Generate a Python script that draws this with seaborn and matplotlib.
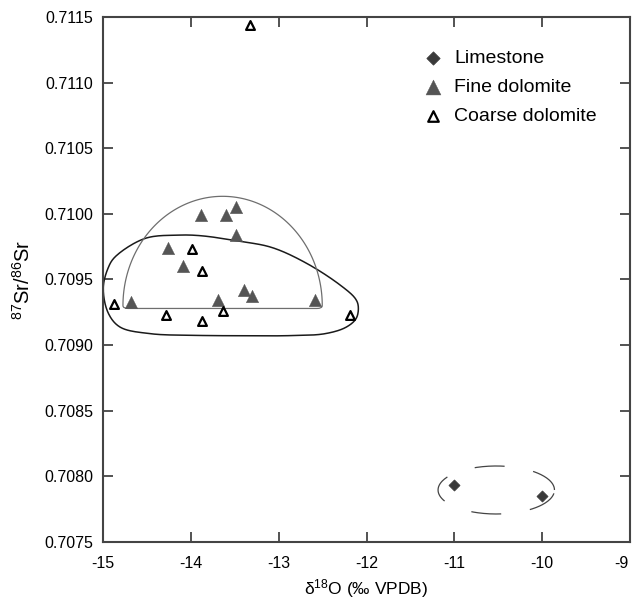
"""
Sr-O isotope cross plot: 87Sr/86Sr against d18O for limestone,
fine dolomite and coarse dolomite, with hand-drawn group envelopes.
"""

import numpy as np
import matplotlib
matplotlib.use("Agg")
import matplotlib.pyplot as plt
import matplotlib.transforms as mtransforms
import seaborn as sns
import pandas as pd
from matplotlib.path import Path
from matplotlib.patches import PathPatch


# ── data ──────────────────────────────────────────────────────────
LIME_D18O = [-11.00, -10.00]
LIME_SR = [0.70793, 0.70785]

FINE_D18O = [-14.68, -14.26, -14.09, -13.89, -13.60, -13.49, -13.49,
             -13.69, -13.40, -13.30, -12.59]
FINE_SR = [0.70933, 0.70974, 0.70960, 0.70999, 0.70999, 0.71005, 0.70984,
           0.70934, 0.70942, 0.70937, 0.70934]

COARSE_D18O = [-14.88, -14.29, -13.88, -13.63, -13.99, -13.88, -13.33, -12.19]
COARSE_SR = [0.70931, 0.70923, 0.70918, 0.70926, 0.70973, 0.70956, 0.71144,
             0.70923]

GROUPS = ["Limestone", "Fine dolomite", "Coarse dolomite"]

X_TICKS = [-15, -14, -13, -12, -11, -10, -9]
Y_TICKS = [0.7075, 0.7080, 0.7085, 0.7090, 0.7095, 0.7100, 0.7105, 0.7110, 0.7115]

# envelope around the coarse dolomites (closed smooth curve nodes)
COARSE_ENV_X = [-14.999, -14.942, -14.808, -14.466, -13.953, -13.383, -12.870,
                -12.471, -12.231, -12.117, -12.095, -12.129, -12.300, -12.680,
                -13.075, -13.440, -13.896, -14.147, -14.523, -14.865, -14.945]
COARSE_ENV_Y = [0.709433, 0.709242, 0.709136, 0.709086, 0.709073, 0.709070,
                0.709071, 0.709086, 0.709136, 0.709204, 0.709296, 0.709354,
                0.709456, 0.709621, 0.709742, 0.709790, 0.709833, 0.709837,
                0.709812, 0.709671, 0.709585]

# dome around the fine dolomites: centre, half-width, height, flat base
FINE_ENV_CX, FINE_ENV_A = -13.64, 1.135
FINE_ENV_BASE, FINE_ENV_TOP, FINE_ENV_BOTTOM = 0.70930, 0.710133, 0.709278

# dashed ellipse around the limestones
LIME_ENV_CX, LIME_ENV_CY = -10.523, 0.707894
LIME_ENV_W, LIME_ENV_H = 1.326, 0.000366


def closed_spline(ax, xs, ys, steps=20):
    """Closed centripetal Catmull-Rom curve through the nodes.

    Built in display space so both axes count the same, then mapped
    back to data coordinates.
    """
    pts = ax.transData.transform(np.column_stack([xs, ys]))
    n = len(pts)
    out = []
    for i in range(n):
        p0, p1, p2, p3 = pts[i - 1], pts[i], pts[(i + 1) % n], pts[(i + 2) % n]
        d0 = np.linalg.norm(p1 - p0) ** 0.5
        d1 = np.linalg.norm(p2 - p1) ** 0.5
        d2 = np.linalg.norm(p3 - p2) ** 0.5
        m1 = d1 * ((p1 - p0) / d0 - (p2 - p0) / (d0 + d1) + (p2 - p1) / d1)
        m2 = d1 * ((p2 - p1) / d1 - (p3 - p1) / (d1 + d2) + (p3 - p2) / d2)
        c1, c2 = p1 + m1 / 3, p2 - m2 / 3
        u = np.linspace(0, 1, steps, endpoint=False)[:, None]
        out.append((1 - u) ** 3 * p1 + 3 * (1 - u) ** 2 * u * c1
                   + 3 * (1 - u) * u ** 2 * c2 + u ** 3 * p2)
    out = np.vstack(out + [pts[:1]])
    return Path(ax.transData.inverted().transform(out), closed=False)


def dome_path(cx, a, base, top, bottom, r=0.06):
    """Half ellipse on a flat base with small rounded corners."""
    t = np.linspace(0, np.pi, 120)
    arc = np.column_stack([cx + a * np.cos(t), base + (top - base) * np.sin(t)])
    verts = list(arc)
    codes = [Path.MOVETO] + [Path.LINETO] * (len(arc) - 1)
    verts += [(cx - a, bottom), (cx - a + r, bottom),
              (cx + a - r, bottom),
              (cx + a, bottom), (cx + a, base)]
    codes += [Path.CURVE3, Path.CURVE3, Path.LINETO, Path.CURVE3, Path.CURVE3]
    return Path(verts, codes)


sns.set_theme(style="ticks")
plt.rcParams["font.family"] = ["Liberation Sans", "DejaVu Sans"]
plt.rcParams["mathtext.fontset"] = "custom"
plt.rcParams["mathtext.rm"] = "Liberation Sans"
plt.rcParams["axes.unicode_minus"] = False
plt.rcParams["lines.scale_dashes"] = False
plt.rcParams["text.color"] = "black"
plt.rcParams["axes.labelcolor"] = "black"

df = pd.DataFrame({
    "d18O": LIME_D18O + FINE_D18O + COARSE_D18O,
    "sr": LIME_SR + FINE_SR + COARSE_SR,
    "group": ([GROUPS[0]] * len(LIME_D18O) + [GROUPS[1]] * len(FINE_D18O)
              + [GROUPS[2]] * len(COARSE_D18O)),
})

fig = plt.figure(figsize=(6.32, 5.99), dpi=100)
ax = fig.add_axes([0.1633, 0.0957, 0.8335, 0.8759])
ax.set_xlim(-15, -9)
ax.set_ylim(0.7075, 0.7115)

# envelopes
ax.add_patch(PathPatch(closed_spline(ax, COARSE_ENV_X, COARSE_ENV_Y),
                       fill=False, ec="#1a1a1a", lw=1.1, zorder=1))
ax.add_patch(PathPatch(dome_path(FINE_ENV_CX, FINE_ENV_A, FINE_ENV_BASE,
                                 FINE_ENV_TOP, FINE_ENV_BOTTOM),
                       fill=False, ec="#6e6e6e", lw=0.9, zorder=1))
t = np.linspace(0, 2 * np.pi, 300)
ax.plot(LIME_ENV_CX + LIME_ENV_W / 2 * np.cos(t),
        LIME_ENV_CY + LIME_ENV_H / 2 * np.sin(t),
        color="#444444", lw=0.9, dashes=(21.6, 20.9), zorder=1)

# points
styles = {
    "Limestone":       dict(marker="D", s=32, color="#3a3a3a", edgecolor="#3a3a3a", linewidth=0.5),
    "Fine dolomite":   dict(marker="^", s=80, color="#555555", edgecolor="#555555", linewidth=0.3),
    "Coarse dolomite": dict(marker="^", s=40, color="white", edgecolor="black", linewidth=1.6),
}
for g in GROUPS:
    sns.scatterplot(data=df[df["group"] == g], x="d18O", y="sr", ax=ax,
                    label=g, zorder=3, clip_on=False, **styles[g])

ax.set_xlim(-15, -9)
ax.set_ylim(0.7075, 0.7115)
ax.set_xticks(X_TICKS)
ax.set_yticks(Y_TICKS)
ax.set_xticklabels([f"{v:d}" for v in X_TICKS])
ax.set_yticklabels([f"{v:.4f}" for v in Y_TICKS])

for side in ["left", "right", "top", "bottom"]:
    ax.spines[side].set_visible(True)
    ax.spines[side].set_color("#444444")
    ax.spines[side].set_linewidth(1.5)
ax.tick_params(direction="in", top=True, right=True, length=7, width=1.3,
               color="#444444", labelsize=11.5, labelcolor="black", pad=7)
ax.tick_params(axis="x", pad=10)

# last x label sits on the figure edge: nudge it inwards a little
last = ax.get_xticklabels()[-1]
last.set_transform(last.get_transform()
                   + mtransforms.ScaledTranslation(-6 / 72, 0, fig.dpi_scale_trans))

ax.set_xlabel(r"δ$\mathregular{^{18}}$O (‰ VPDB)", fontsize=12.5, labelpad=5)
ax.set_ylabel(r"$\mathregular{^{87}Sr/^{86}Sr}$", fontsize=14.5, labelpad=8)

ax.legend(loc="upper left", bbox_to_anchor=(0.6074, 0.939), frameon=False,
          fontsize=14, handlelength=1.0, handletextpad=0.6, labelspacing=0.6,
          borderaxespad=0, borderpad=0, markerscale=1.2, labelcolor="black")

fig.savefig("out.png", dpi=100)
plt.close(fig)
